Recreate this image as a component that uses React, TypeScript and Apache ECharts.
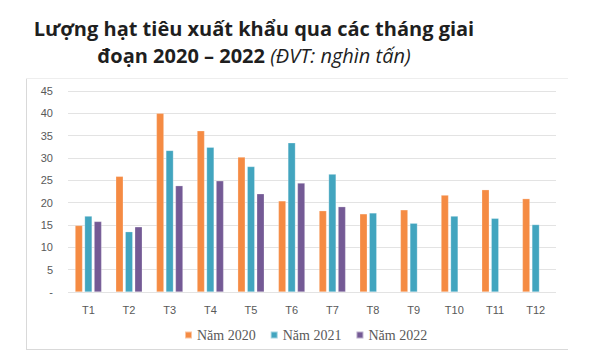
import React, { useEffect, useRef } from "react";
import * as echarts from "echarts";

const categories = ["T1", "T2", "T3", "T4", "T5", "T6", "T7", "T8", "T9", "T10", "T11", "T12"];
const seriesNames = ["Năm 2020", "Năm 2021", "Năm 2022"];
const values2020 = [14.9, 25.9, 40.0, 36.1, 30.2, 20.4, 18.2, 17.5, 18.4, 21.7, 22.9, 20.9];
const values2021 = [17.0, 13.5, 31.7, 32.4, 28.1, 33.4, 26.4, 17.7, 15.4, 17.0, 16.5, 15.1];
const values2022 = [15.8, 14.6, 23.8, 24.9, 22.0, 24.4, 19.1, null, null, null, null, null];
const colors = ["#F58B43", "#42A5BF", "#745A95"];
const titleLine1 = "Lượng hạt tiêu xuất khẩu qua các tháng giai";
const titleLine2Bold = "đoạn 2020 – 2022 ";
const titleLine2Italic = "(ĐVT: nghìn tấn)";

export default function App() {
  const ref = useRef<HTMLDivElement>(null);
  useEffect(() => {
    if (!ref.current) return;
    const chart = echarts.init(ref.current, null, { renderer: "svg" });
    const data = [values2020, values2021, values2022];
    chart.setOption({
      animation: false,
      backgroundColor: "#ffffff",
      graphic: [
        {
          type: "line",
          shape: { x1: 26.5, y1: 78, x2: 26.5, y2: 349 },
          style: { stroke: "#d9d9d9", lineWidth: 1 },
          silent: true,
        },
        {
          type: "line",
          shape: { x1: 26, y1: 78.5, x2: 568, y2: 78.5 },
          style: { stroke: "#eeeeee", lineWidth: 1 },
          silent: true,
        },
        {
          type: "line",
          shape: { x1: 26, y1: 349.5, x2: 568, y2: 349.5 },
          style: { stroke: "#d9d9d9", lineWidth: 1 },
          silent: true,
        },
        {
          type: "text",
          x: 254,
          y: 38,
          style: {
            text: titleLine1,
            fontFamily: "Open Sans",
            fontWeight: "bold",
            fontSize: 20,
            fill: "#1f1f1f",
            textAlign: "center",
            textVerticalAlign: "bottom",
          },
        },
        {
          type: "text",
          x: 254,
          y: 65,
          style: {
            text: "{b|" + titleLine2Bold + "}{i|" + titleLine2Italic + "}",
            textAlign: "center",
            textVerticalAlign: "bottom",
            rich: {
              b: { fontFamily: "Open Sans", fontWeight: "bold", fontSize: 20, fill: "#1f1f1f" },
              i: { fontFamily: "Open Sans", fontStyle: "italic", fontWeight: "normal", fontSize: 20, fill: "#1f1f1f" },
            },
          },
        },
      ],
      legend: {
        data: seriesNames,
        left: 179,
        top: 323,
        itemWidth: 7,
        itemHeight: 7,
        itemGap: 14,
        icon: "rect",
        textStyle: { fontFamily: "Liberation Serif", fontSize: 14, color: "#595959" },
      },
      grid: { left: 68, right: 49, top: 91, bottom: 66, containLabel: false },
      xAxis: {
        type: "category",
        data: categories,
        axisLine: { show: false },
        axisTick: { show: false },
        axisLabel: { color: "#595959", fontFamily: "Liberation Sans", fontSize: 11, margin: 12 },
      },
      yAxis: {
        type: "value",
        min: 0,
        max: 45,
        interval: 5,
        axisLine: { show: false },
        axisTick: { show: false },
        splitLine: { lineStyle: { color: "#e3e3e3", width: 1 } },
        axisLabel: {
          color: "#595959",
          fontFamily: "Liberation Sans",
          fontSize: 11,
          margin: 15,
          formatter: (v: number) => (v === 0 ? "-" : String(v)),
        },
      },
      series: seriesNames.map((name, i) => ({
        name,
        type: "bar",
        data: data[i],
        barWidth: 7.5,
        barGap: "27%",
        itemStyle: { color: colors[i], borderColor: "rgba(255,255,255,0.5)", borderWidth: 0.5 },
      })),
    });
    return () => chart.dispose();
  }, []);
  return <div ref={ref} style={{ width: 605, height: 358, marginLeft: -8, marginTop: -8 }} />;
}
